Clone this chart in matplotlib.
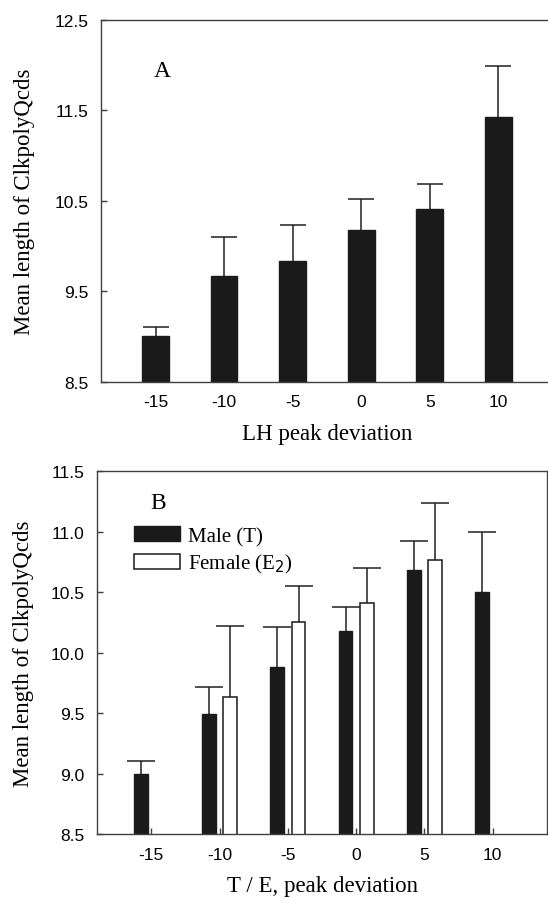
import numpy as np
import matplotlib
matplotlib.use("Agg")
import matplotlib.pyplot as plt
from matplotlib.patches import Patch

# panel A: LH peak deviation
lh_dev = [-15, -10, -5, 0, 5, 10]
lh_mean = [9.00, 9.67, 9.83, 10.18, 10.41, 11.42]
lh_err = [0.10, 0.43, 0.40, 0.34, 0.27, 0.57]

# panel B: T / E2 peak deviation
te_dev = [-15, -10, -5, 0, 5, 10]
male_mean = [9.00, 9.49, 9.88, 10.18, 10.68, 10.50]
male_err = [0.10, 0.23, 0.33, 0.20, 0.24, 0.50]
female_mean = [np.nan, 9.63, 10.25, 10.41, 10.77, np.nan]
female_err = [np.nan, 0.59, 0.30, 0.29, 0.47, np.nan]

serif = "Liberation Serif"
sans = "Liberation Sans"
spine_col = "#404040"
bar_col = "#1a1a1a"
ylab = "Mean length of ClkpolyQcds"

fig = plt.figure(figsize=(5.48, 9.04), dpi=100)
axA = fig.add_axes([0.1838, 0.5767, 0.8254, 0.4004])
axB = fig.add_axes([0.1765, 0.0763, 0.8223, 0.4012])


def style(ax):
    for s in ax.spines.values():
        s.set_color(spine_col)
        s.set_linewidth(1.0)
    ax.tick_params(direction="in", length=4, width=1.0, color=spine_col,
                   labelsize=12.5, pad=9)
    for lab in ax.get_xticklabels() + ax.get_yticklabels():
        lab.set_fontfamily(sans)
    ax.set_xlim(-19, 14)


def upper_err(ax, xs, ys, err, cap):
    # only the upper half of the error bar, like the original figure
    _, caps, _ = ax.errorbar(xs, ys, yerr=[np.zeros(len(err)), err],
                             fmt="none", ecolor="#202020", elinewidth=1.1,
                             capsize=cap, capthick=1.1, zorder=1)
    for c in caps:
        if np.allclose(c.get_ydata(), ys):
            c.set_visible(False)


# ---- panel A
axA.bar(lh_dev, lh_mean, width=1.95, color=bar_col, edgecolor=bar_col,
        zorder=2)
upper_err(axA, lh_dev, np.array(lh_mean), lh_err, 9.5)
axA.set_ylim(8.5, 12.5)
axA.set_yticks([8.5, 9.5, 10.5, 11.5, 12.5])
axA.set_yticklabels(["8.5", "9.5", "10.5", "11.5", "12.5"])
axA.set_xticks(lh_dev)
axA.set_xticklabels([str(v) for v in lh_dev])
style(axA)
axA.set_xlabel("LH peak deviation", fontfamily=serif, fontsize=16.5, labelpad=10)
axA.set_ylabel(ylab, fontfamily=serif, fontsize=16.5)
axA.yaxis.set_label_coords(-0.145, 0.5)
axA.text(0.1355, 0.86, "A", transform=axA.transAxes, fontfamily=serif,
         fontsize=17, ha="center", va="center")

# ---- panel B
off = 0.78
x = np.array(te_dev, dtype=float)
axB.bar(x - off, male_mean, width=1.0, color=bar_col, edgecolor=bar_col,
        zorder=2)
upper_err(axB, x - off, np.array(male_mean), male_err, 10)
fm = ~np.isnan(female_mean)
fx = (x + off)[fm]
fmean = np.array(female_mean)[fm]
ferr = np.array(female_err)[fm]
axB.bar(fx, fmean, width=1.0, color="white", edgecolor=bar_col,
        linewidth=1.1, zorder=2)
upper_err(axB, fx, fmean, ferr, 10)
axB.set_ylim(8.5, 11.5)
axB.set_yticks([8.5, 9.0, 9.5, 10.0, 10.5, 11.0, 11.5])
axB.set_yticklabels(["8.5", "9.0", "9.5", "10.0", "10.5", "11.0", "11.5"])
axB.set_xticks(te_dev)
axB.set_xticklabels([str(v) for v in te_dev])
style(axB)
axB.set_xlabel("T / E, peak deviation", fontfamily=serif, fontsize=16.5,
               labelpad=10)
axB.set_ylabel(ylab, fontfamily=serif, fontsize=16.5)
axB.yaxis.set_label_coords(-0.140, 0.5)
axB.text(0.137, 0.915, "B", transform=axB.transAxes, fontfamily=serif,
         fontsize=17, ha="center", va="center")

handles = [Patch(facecolor=bar_col, edgecolor=bar_col, label="Male (T)"),
           Patch(facecolor="white", edgecolor=bar_col, linewidth=1.1,
                 label="Female (E$_2$)")]
axB.legend(handles=handles, loc="upper left", bbox_to_anchor=(0.083, 0.848),
           frameon=False, borderpad=0, borderaxespad=0, handlelength=2.2,
           handleheight=0.72, handletextpad=0.4, labelspacing=0.3,
           prop={"family": serif, "size": 15})

fig.savefig("out.png", dpi=100)
